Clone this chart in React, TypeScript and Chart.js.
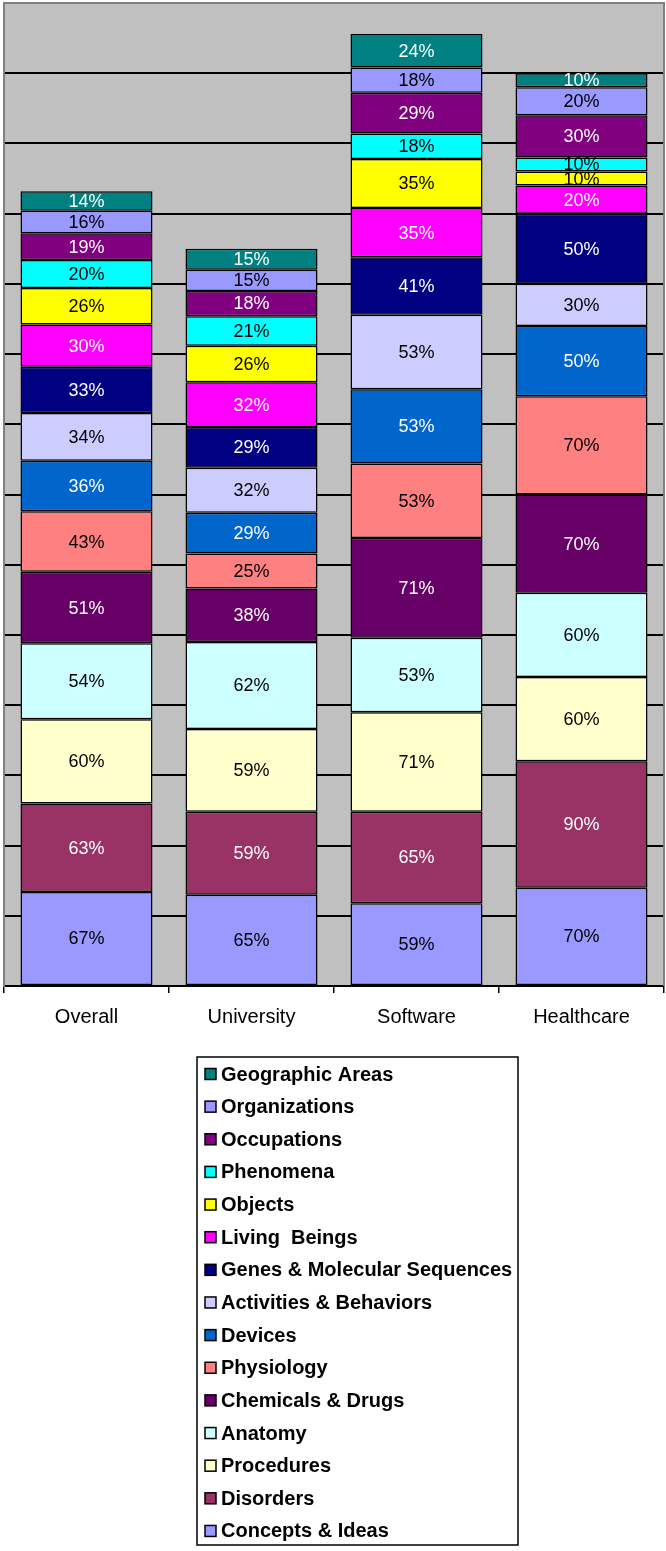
import React, { useEffect, useRef } from "react";
import { Chart, registerables } from "chart.js";

Chart.register(...registerables);

const categories = ["Overall", "University", "Software", "Healthcare"];

// bottom of stack to top
const conceptsIdeas = [67, 65, 59, 70];
const disorders = [63, 59, 65, 90];
const procedures = [60, 59, 71, 60];
const anatomy = [54, 62, 53, 60];
const chemicalsDrugs = [51, 38, 71, 70];
const physiology = [43, 25, 53, 70];
const devices = [36, 29, 53, 50];
const activitiesBehaviors = [34, 32, 53, 30];
const genesMolecular = [33, 29, 41, 50];
const livingBeings = [30, 32, 35, 20];
const objects = [26, 26, 35, 10];
const phenomena = [20, 21, 18, 10];
const occupations = [19, 18, 29, 30];
const organizations = [16, 15, 18, 20];
const geographicAreas = [14, 15, 24, 10];

const seriesNames = [
  "Concepts & Ideas",
  "Disorders",
  "Procedures",
  "Anatomy",
  "Chemicals & Drugs",
  "Physiology",
  "Devices",
  "Activities & Behaviors",
  "Genes & Molecular Sequences",
  "Living  Beings",
  "Objects",
  "Phenomena",
  "Occupations",
  "Organizations",
  "Geographic Areas",
];
const seriesValues = [
  conceptsIdeas,
  disorders,
  procedures,
  anatomy,
  chemicalsDrugs,
  physiology,
  devices,
  activitiesBehaviors,
  genesMolecular,
  livingBeings,
  objects,
  phenomena,
  occupations,
  organizations,
  geographicAreas,
];
const seriesColors = [
  "#9999FF",
  "#993366",
  "#FFFFCC",
  "#CCFFFF",
  "#660066",
  "#FF8080",
  "#0066CC",
  "#CCCCFF",
  "#000080",
  "#FF00FF",
  "#FFFF00",
  "#00FFFF",
  "#800080",
  "#9999FF",
  "#008080",
];
const labelColors = [
  "#000",
  "#fff",
  "#000",
  "#000",
  "#fff",
  "#000",
  "#fff",
  "#000",
  "#fff",
  "#fff",
  "#000",
  "#000",
  "#fff",
  "#000",
  "#fff",
];

const FONT = "'Liberation Sans', Arial, sans-serif";
const W = 666;
const H = 1551;
const AREA_BOTTOM = 986;
const XAXIS_H = 50;

const bgPlugin = {
  id: "plotBg",
  beforeDraw(chart: any) {
    const { ctx, chartArea } = chart;
    ctx.save();
    ctx.fillStyle = "#ffffff";
    ctx.fillRect(0, 0, chart.width, chart.height);
    ctx.fillStyle = "#C0C0C0";
    ctx.fillRect(
      chartArea.left,
      chartArea.top,
      chartArea.right - chartArea.left,
      chartArea.bottom - chartArea.top
    );
    ctx.restore();
  },
  afterDatasetsDraw(chart: any) {
    const { ctx, chartArea } = chart;
    ctx.save();
    ctx.strokeStyle = "#808080";
    ctx.lineWidth = 2;
    ctx.beginPath();
    ctx.moveTo(chartArea.left, chartArea.bottom);
    ctx.lineTo(chartArea.left, chartArea.top);
    ctx.lineTo(chartArea.right, chartArea.top);
    ctx.lineTo(chartArea.right, chartArea.bottom);
    ctx.stroke();
    ctx.restore();
  },
};

const valueLabelPlugin = {
  id: "valueLabels",
  afterDatasetsDraw(chart: any) {
    const { ctx } = chart;
    ctx.save();
    ctx.font = `18px ${FONT}`;
    ctx.textAlign = "center";
    ctx.textBaseline = "middle";
    chart.data.datasets.forEach((ds: any, di: number) => {
      const meta = chart.getDatasetMeta(di);
      meta.data.forEach((bar: any, i: number) => {
        const v = ds.data[i];
        const cy = (bar.y + bar.base) / 2;
        ctx.fillStyle = labelColors[di];
        ctx.fillText(`${v}%`, bar.x, cy + 1);
      });
    });
    ctx.restore();
  },
};

const legendPlugin = {
  id: "boxLegend",
  afterDraw(chart: any) {
    const { ctx } = chart;
    const boxL = 197;
    const boxT = 1057;
    const boxR = 518;
    const boxB = 1545;
    ctx.save();
    ctx.fillStyle = "#fff";
    ctx.fillRect(boxL, boxT, boxR - boxL, boxB - boxT);
    ctx.strokeStyle = "#000";
    ctx.lineWidth = 1.5;
    ctx.strokeRect(boxL, boxT, boxR - boxL, boxB - boxT);
    const ds = chart.data.datasets;
    const n = ds.length;
    const first = 1074;
    const step = 32.64;
    ctx.font = `bold 20px ${FONT}`;
    ctx.textBaseline = "middle";
    ctx.textAlign = "left";
    for (let k = 0; k < n; k++) {
      const d = ds[n - 1 - k];
      const cy = first + k * step;
      ctx.fillStyle = d.backgroundColor;
      ctx.fillRect(205, cy - 5.5, 11, 11);
      ctx.strokeStyle = "#000";
      ctx.lineWidth = 1.5;
      ctx.strokeRect(205, cy - 5.5, 11, 11);
      ctx.fillStyle = "#000";
      ctx.fillText(d.label, 221, cy + 1);
    }
    ctx.restore();
  },
};

export default function App() {
  const ref = useRef<HTMLCanvasElement | null>(null);
  useEffect(() => {
    if (!ref.current) return;
    const chart = new Chart(ref.current, {
      type: "bar",
      data: {
        labels: categories,
        datasets: seriesNames.map((name, i) => ({
          label: name,
          data: seriesValues[i],
          backgroundColor: seriesColors[i],
          borderColor: "#000",
          borderWidth: 1.5,
          borderSkipped: false,
          barPercentage: 0.8,
          categoryPercentage: 1.0,
        })),
      },
      options: {
        responsive: false,
        animation: false,
        devicePixelRatio: 1,
        layout: {
          padding: { left: 4, right: 2, top: 3, bottom: H - AREA_BOTTOM - XAXIS_H },
        },
        plugins: {
          legend: { display: false },
          tooltip: { enabled: false },
        },
        scales: {
          x: {
            stacked: true,
            offset: true,
            grid: {
              display: true,
              drawOnChartArea: false,
              drawTicks: true,
              tickLength: 7,
              color: "#000",
              lineWidth: 1.5,
              offset: true,
            },
            border: { display: true, color: "#000", width: 1.5 },
            ticks: {
              color: "#000",
              font: { family: FONT, size: 20 },
              padding: 12,
              maxRotation: 0,
            },
            afterFit: (s: any) => {
              s.height = XAXIS_H;
            },
          },
          y: {
            stacked: true,
            min: 0,
            max: 700,
            ticks: { display: false, stepSize: 50 },
            grid: {
              drawTicks: false,
              color: (c: any) => (c.tick && c.tick.value === 700 ? "rgba(0,0,0,0)" : "#000"),
              lineWidth: 2,
            },
            border: { display: true, color: "#808080", width: 2 },
            afterFit: (s: any) => {
              s.width = 0;
            },
          },
        },
      },
      plugins: [bgPlugin, valueLabelPlugin, legendPlugin],
    });
    return () => chart.destroy();
  }, []);
  return (
    <div style={{ position: "absolute", left: 0, top: 0, width: W, height: H }}>
      <canvas ref={ref} width={W} height={H} style={{ display: "block" }} />
    </div>
  );
}
